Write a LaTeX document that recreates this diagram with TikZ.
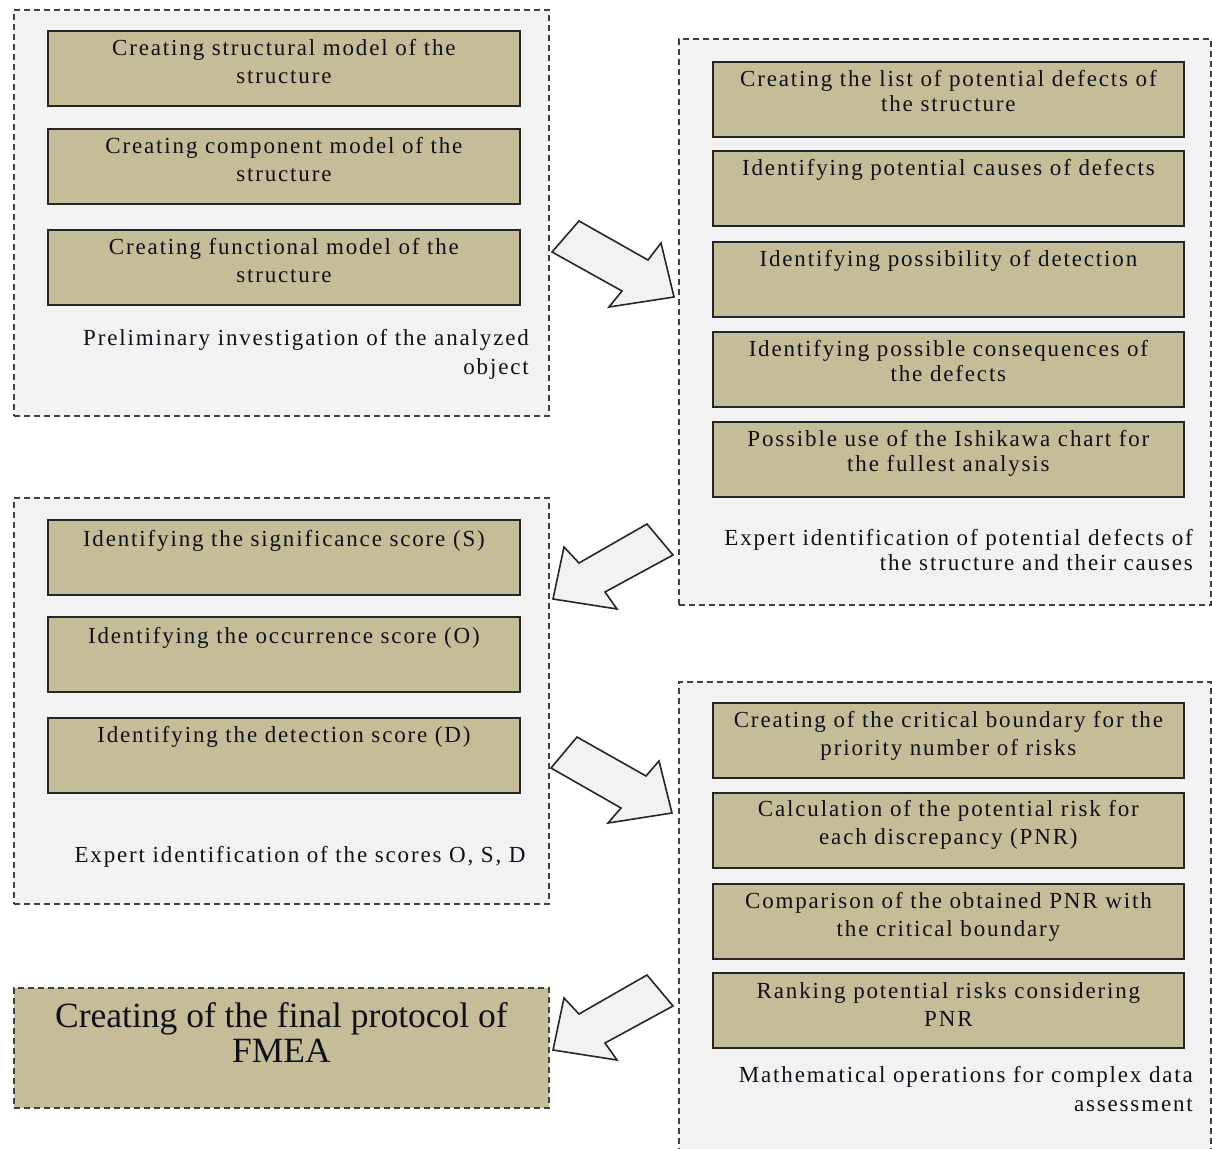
\documentclass[tikz,border=0pt]{standalone}
\usepackage{fontspec}
\setmainfont{Liberation Serif}
\newfontfamily\lsfont{Liberation Serif}[LetterSpace=8]
\usetikzlibrary{calc}
\definecolor{tanfill}{HTML}{C4BD97}
\definecolor{grpfill}{HTML}{F2F2F2}
\definecolor{ink}{HTML}{10101A}
\begin{document}
\begin{tikzpicture}[x=1pt,y=-1pt,
  grp/.style={draw=black!75, dash pattern=on 6pt off 4pt, line width=1.8pt, fill=grpfill, inner sep=0pt, anchor=north west},
  box/.style={draw=black!85, line width=1.8pt, fill=tanfill, minimum width=472pt, minimum height=75pt, anchor=north west, inner sep=0pt},
  btxt/.style={anchor=north, inner sep=0pt, align=center, text=ink, font=\lsfont\fontsize{23}{28.5}\selectfont},
  btxtb/.style={btxt, font=\lsfont\fontsize{23}{25}\selectfont},
  gl/.style={anchor=north east, inner sep=0pt, align=right, text=ink, font=\lsfont\fontsize{23}{29}\selectfont},
  barrow/.style={draw=black!85, line width=1.6pt, fill=grpfill, line join=miter}]
\clip (0,0) rectangle (1212,1148);
\fill[white] (0,0) rectangle (1212,1148);
% groups
\node[grp, minimum width=535pt, minimum height=406pt] (g1) at (13,9) {};
\node[grp, minimum width=532pt, minimum height=566pt] (g2) at (678,38) {};
\node[grp, minimum width=535pt, minimum height=406pt] (g3) at (13,497) {};
\node[grp, minimum width=532pt, minimum height=480pt] (g4) at (678,681) {};
\node[grp, fill=tanfill, minimum width=535pt, minimum height=120pt] (fin) at (13,987) {};
% group 1
\node[box] (a1) at (47,30) {};
\node[box] (a2) at (47,128) {};
\node[box] (a3) at (47,229) {};
\node[btxt] (a1t) at ($(a1.north)+(0,9)$) {Creating structural model of the\\structure};
\node[btxt] (a2t) at ($(a2.north)+(0,9)$) {Creating component model of the\\structure};
\node[btxt] (a3t) at ($(a3.north)+(0,9)$) {Creating functional model of the\\structure};
\node[gl] (g1l) at (529,329) {Preliminary investigation of the analyzed\\object};
% group 2
\node[box, minimum width=471pt] (b1) at (712,61) {};
\node[box, minimum width=471pt] (b2) at (712,150) {};
\node[box, minimum width=471pt] (b3) at (712,241) {};
\node[box, minimum width=471pt] (b4) at (712,331) {};
\node[box, minimum width=471pt] (b5) at (712,421) {};
\node[btxtb] (b1t) at ($(b1.north)+(0,9)$) {Creating the list of potential defects of\\the structure};
\node[btxtb] (b2t) at ($(b2.north)+(0,9)$) {Identifying potential causes of defects};
\node[btxtb] (b3t) at ($(b3.north)+(0,9)$) {Identifying possibility of detection};
\node[btxtb] (b4t) at ($(b4.north)+(0,9)$) {Identifying possible consequences of\\the defects};
\node[btxtb] (b5t) at ($(b5.north)+(0,9)$) {Possible use of the Ishikawa chart for\\the fullest analysis};
\node[gl, font=\lsfont\fontsize{23}{25}\selectfont] (g2l) at (1193,529) {Expert identification of potential defects of\\the structure and their causes};
% group 3
\node[box] (c1) at (47,519) {};
\node[box] (c2) at (47,616) {};
\node[box] (c3) at (47,717) {};
\node[btxt] (c1t) at ($(c1.north)+(0,11)$) {Identifying the significance score (S)};
\node[btxt] (c2t) at ($(c2.north)+(0,11)$) {Identifying the occurrence score (O)};
\node[btxt] (c3t) at ($(c3.north)+(0,9)$) {Identifying the detection score (D)};
\node[gl, anchor=north] (g3l) at (300,846) {Expert identification of the scores O, S, D};
% group 4
\node[box, minimum width=471pt] (d1) at (712,702) {};
\node[box, minimum width=471pt] (d2) at (712,792) {};
\node[box, minimum width=471pt] (d3) at (712,883) {};
\node[box, minimum width=471pt] (d4) at (712,972) {};
\node[btxt] (d1t) at ($(d1.north)+(0,9)$) {Creating of the critical boundary for the\\priority number of risks};
\node[btxt] (d2t) at ($(d2.north)+(0,8)$) {Calculation of the potential risk for\\each discrepancy (PNR)};
\node[btxt] (d3t) at ($(d3.north)+(0,9)$) {Comparison of the obtained PNR with\\the critical boundary};
\node[btxt] (d4t) at ($(d4.north)+(0,10)$) {Ranking potential risks considering\\PNR};
\node[gl] (g4l) at (1193,1066) {Mathematical operations for complex data\\assessment};
% final
\node[anchor=north, inner sep=0pt, align=center, text=ink, font=\fontsize{35.5}{35}\selectfont] (fint) at ($(fin.north)+(0,15)$) {Creating of the final protocol of\\FMEA};
% block arrows
\draw[barrow] (552,252) -- (579,221) -- (648,260) -- (661,243) -- (674,297) -- (609,307) -- (622,291) -- cycle;
\draw[barrow] (647,524) -- (673,555) -- (605,592) -- (617,609) -- (553,599) -- (564,547) -- (579,563) -- cycle;
\draw[barrow] (551,768) -- (577,737) -- (646,776) -- (659,761) -- (672,813) -- (608,823) -- (621,808) -- cycle;
\draw[barrow] (647,975) -- (673,1006) -- (605,1043) -- (617,1060) -- (553,1050) -- (564,998) -- (579,1014) -- cycle;
\end{tikzpicture}
\end{document}
